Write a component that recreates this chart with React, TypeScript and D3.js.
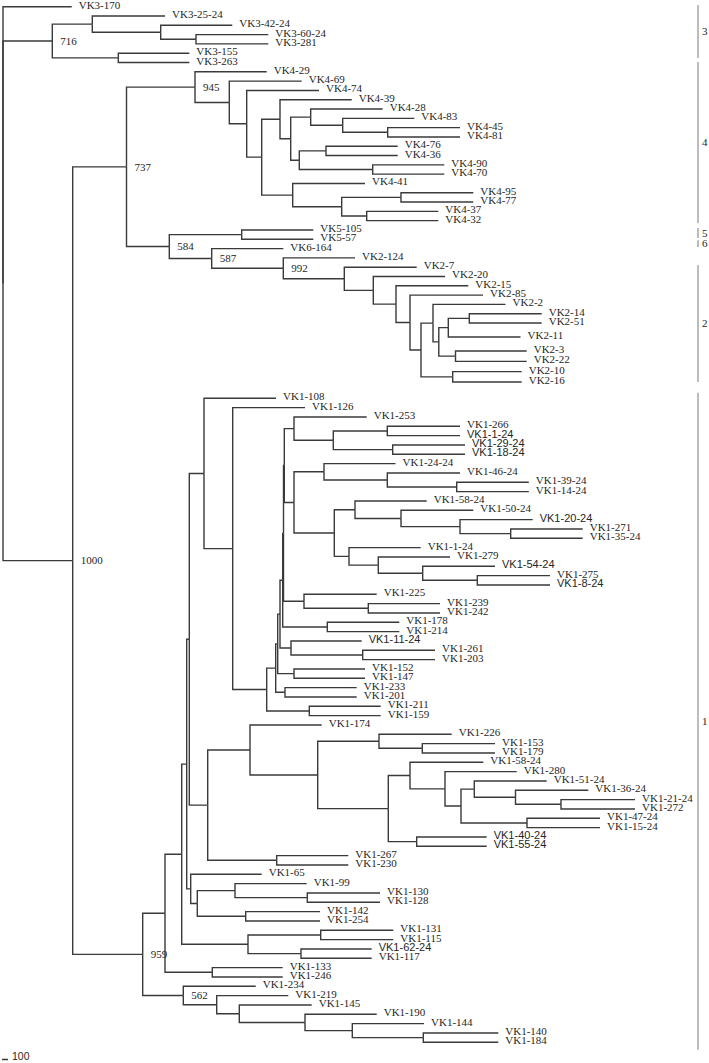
import React from 'react';
import * as d3 from 'd3';

// Tree topology in Newick form. Numbers after ":" are cumulative distances
// from the origin of the tree (tree units); internal labels are bootstrap values.
const vk1Ladder = `(((((((
(VK1-253:366.7,((VK1-266:460,VK1-1-24:460):387.3,(VK1-29-24:465,VK1-18-24:465):392.7):333.3):294,
((VK1-24-24:395.5,(VK1-46-24:460,(VK1-39-24:528.8,VK1-14-24:528.8):456.7):387.3):324,
 ((VK1-58-24:426.7,(VK1-50-24:473.3,(VK1-20-24:532.7,(VK1-271:582.7,VK1-35-24:582.7):510.7):460):401):355,
  (VK1-1-24:420.7,(VK1-279:450,(VK1-54-24:495,(VK1-275:550,VK1-8-24:550):477.3):422.7):378.3):349):334.3):294
):284.3,
(VK1-225:376.7,(VK1-239:440,VK1-242:440):368.3):304):283.5,
(VK1-178:399.3,VK1-214:399.3):327.3):282.7,
(VK1-11-24:361.7,(VK1-261:435,VK1-203:435):362.7):291):280,
(VK1-152:365,VK1-147:365):294):277.7,
(VK1-233:356.7,VK1-201:356.7):285):275.7,
(VK1-211:380.7,VK1-159:380.7):309.3):266.7`;

const vk1Clade = `((((((VK1-108:276,(VK1-126:305,${vk1Ladder}):232.7):204,
((VK1-174:321.7,((VK1-226:451.7,(VK1-153:495,VK1-179:495):422.3):379,((VK1-58-24:483.3,(VK1-280:516.7,((VK1-51-24:546.7,(VK1-36-24:588.3,(VK1-21-24:635,VK1-272:635):561):515.5):474.3,(VK1-47-24:600,VK1-15-24:600):527):461):445):410,(VK1-40-24:486.7,VK1-55-24:486.7):416.7):388.3):317.7):250,(VK1-267:348.3,VK1-230:348.3):276.7):207.7):189.3,
(VK1-65:261.7,((VK1-99:306.7,(VK1-130:380,VK1-128:380):307.3):235,(VK1-142:320,VK1-254:320):245.7):197.3):190.7):186.7,
((VK1-131:393.3,VK1-115:393.3):320.7,(VK1-62-24:371.7,VK1-117:371.7):301):248):181.7,
(VK1-133:282.7,VK1-246:282.7):212.3):165,
(VK1-234:255.7,(VK1-219:288.3,(VK1-145:311.7,(VK1-190:376.7,(VK1-144:424,(VK1-140:498.3,VK1-184:498.3):423.3):352.3):305):239.3):216.7)562:183.3)959:142.7`;

const vk4Clade = `(VK4-29:266.7,(VK4-69:301.7,(VK4-74:319,((VK4-39:351.7,((VK4-28:382.7,(VK4-83:414.3,(VK4-45:460,VK4-81:460):387.7):342.7):310.7,((VK4-76:397.7,VK4-36:397.7):326,(VK4-90:444.3,VK4-70:444.3):372.7):299.3):290.7):280,(VK4-41:365,((VK4-95:473.3,VK4-77:473.3):401,(VK4-37:438.3,VK4-32:438.3):366.7):341.7):292.7):261.7):246.7):229.3)945:195`;

const vk2Clade = `((VK5-105:313.3,VK5-57:313.3):241.7,(VK6-164:283.3,(VK2-124:355,(VK2-7:416.7,(VK2-20:445,(VK2-15:468.3,(VK2-85:483,((VK2-2:505.5,(((VK2-14:541.7,VK2-51:541.7):469.3,VK2-11:520.5):448.3,(VK2-3:526.7,VK2-22:526.7):455.5):438.8):433,(VK2-10:521.7,VK2-16:521.7):452.7):421):410):396):373.3):344.3)992:283.3)587:211.7)584:169.3`;

const vk3Clade = `((VK3-25-24:165,(VK3-42-24:232.3,(VK3-60-24:268.3,VK3-281:268.3):196):160.7):92.3,(VK3-155:189.3,VK3-263:189.3):118.3)716:52.3`;

const treeNewick = `(VK3-170:71.7,${vk3Clade},((${vk4Clade},${vk2Clade})737:126.5,${vk1Clade})1000:72.7):3;`;

// leaf rows whose labels are set in a sans-serif face
const sansLabelRows = [44, 45, 46, 53, 58, 60, 66, 87, 88, 99];

// clade brackets on the right (in leaf-row units)
const cladeNames = ['3', '4', '5', '6', '2', '1'];
const cladeRowStart = [-0.18, 5.95, 23.8, 25.1, 27.78, 39.66];
const cladeRowEnd = [5.5, 23.26, 24.87, 25.84, 39, 109.8];

// scale bar
const scaleBarLength = 6;
const scaleBarLabel = '100';

type TNode = { name: string; dist: number; children?: TNode[] };

function parseNewick(src: string): TNode {
  const s = src.replace(/\s+/g, '');
  let i = 0;
  function node(): TNode {
    const n: TNode = { name: '', dist: 0 };
    if (s[i] === '(') {
      i++;
      n.children = [node()];
      while (s[i] === ',') {
        i++;
        n.children.push(node());
      }
      i++;
    }
    let name = '';
    while (i < s.length && !'(),:;'.includes(s[i])) name += s[i++];
    n.name = name;
    if (s[i] === ':') {
      i++;
      let num = '';
      while (i < s.length && !'(),;'.includes(s[i])) num += s[i++];
      n.dist = +num;
    }
    return n;
  }
  return node();
}

const SERIF = '"Liberation Serif", "Times New Roman", serif';
const SANS = '"Liberation Sans", Arial, sans-serif';

export default function App() {
  const W = 709;
  const H = 1063;

  const root = d3.hierarchy<TNode>(parseNewick(treeNewick), (d) => d.children);
  const xScale = d3.scaleLinear().domain([0, W]).range([0, W]);
  const yScale = d3
    .scaleLinear()
    .domain([0, 34, 36, 39, 40, 109])
    .range([6.7, 323, 351, 382, 398.3, 1042.3]);

  const leaves = root.leaves();
  const pos = new Map<any, { x: number; y: number }>();
  leaves.forEach((l, i) => pos.set(l, { x: xScale(l.data.dist), y: yScale(i) }));
  root.eachAfter((n) => {
    if (n.children) {
      const a = pos.get(n.children[0])!.y;
      const b = pos.get(n.children[n.children.length - 1])!.y;
      pos.set(n, { x: xScale(n.data.dist), y: (a + b) / 2 });
    }
  });

  const links = root.links();
  const internals = root.descendants().filter((n) => n.children && n.data.name);
  const sansSet = new Set(sansLabelRows);
  const bracketX = 698;

  return (
    <svg
      width={W}
      height={H}
      viewBox={`0 0 ${W} ${H}`}
      style={{ position: 'absolute', left: 0, top: 0, background: '#fff' }}
    >
      <g fill="none" stroke="#3a3a3a" strokeWidth={1.4}>
        {links.map((lk, i) => {
          const s = pos.get(lk.source)!;
          const t = pos.get(lk.target)!;
          return <path key={i} d={`M${s.x},${s.y}V${t.y}H${t.x}`} />;
        })}
      </g>
      <g fill="#262626" fontSize={11}>
        {leaves.map((l, i) => {
          const p = pos.get(l)!;
          return (
            <text
              key={i}
              x={p.x + 7}
              y={p.y + 2}
              fontFamily={sansSet.has(i) ? SANS : SERIF}
            >
              {l.data.name}
            </text>
          );
        })}
        {internals.map((n, i) => {
          const p = pos.get(n)!;
          return (
            <text key={'b' + i} x={p.x + 8} y={p.y} dy="0.35em" fontFamily={SERIF}>
              {n.data.name}
            </text>
          );
        })}
      </g>
      <g>
        {cladeNames.map((c, i) => {
          const y0 = yScale(cladeRowStart[i]);
          const y1 = yScale(cladeRowEnd[i]);
          return (
            <g key={c}>
              <line x1={bracketX} x2={bracketX} y1={y0} y2={y1} stroke="#7a7a7a" strokeWidth={1} />
              <text
                x={bracketX + 4}
                y={(y0 + y1) / 2}
                dy="0.35em"
                fontSize={11}
                fontFamily={SERIF}
                fill="#262626"
              >
                {c}
              </text>
            </g>
          );
        })}
      </g>
      <g>
        <line
          x1={xScale(2)}
          x2={xScale(2 + scaleBarLength)}
          y1={1059.5}
          y2={1059.5}
          stroke="#3a3a3a"
          strokeWidth={1.5}
        />
        <text x={xScale(12)} y={1060} fontSize={10.5} fontFamily={SANS} fill="#262626">
          {scaleBarLabel}
        </text>
      </g>
    </svg>
  );
}
